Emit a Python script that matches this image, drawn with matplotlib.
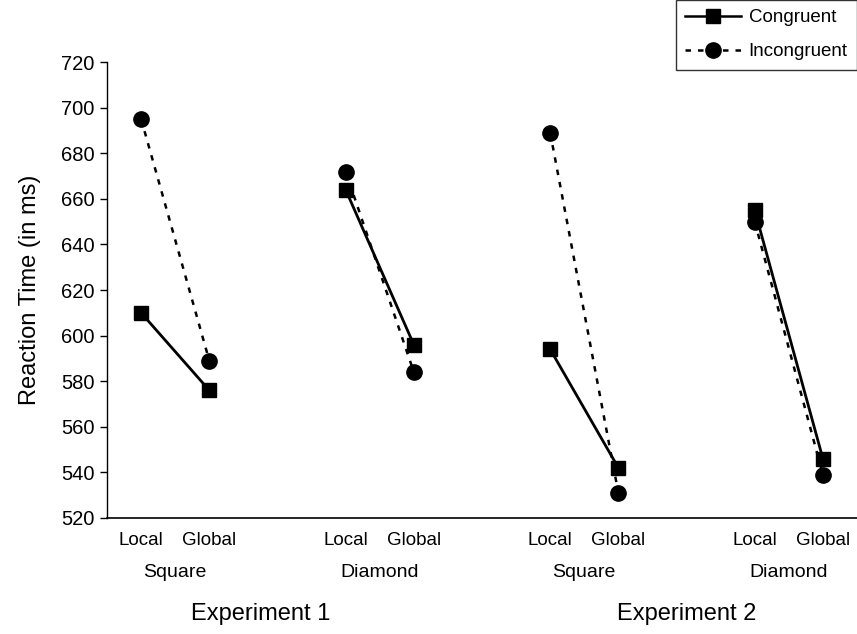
import numpy as np
import matplotlib
matplotlib.use('Agg')
import matplotlib.pyplot as plt
from matplotlib.lines import Line2D

plt.rcParams['font.family'] = ['Liberation Sans', 'DejaVu Sans']

# data (ms)
experiments = ['Experiment 1', 'Experiment 2']
shapes = ['Square', 'Diamond', 'Square', 'Diamond']
levels = ['Local', 'Global']
congruent = [[610, 576], [664, 596], [594, 542], [655, 546]]
incongruent = [[695, 589], [672, 584], [689, 531], [650, 539]]

fig = plt.figure(figsize=(8.57, 6.34), dpi=100)
ax = fig.add_axes([0.1249, 0.183, 0.8751, 0.719])

gap = 3
for i in range(len(shapes)):
    xs = [i * gap, i * gap + 1]
    ax.plot(xs, incongruent[i], color='black', lw=1.8, ls=(0, (2.2, 2.8)),
            marker='o', ms=11, mfc='black', mec='black', zorder=2)
    ax.plot(xs, congruent[i], color='black', lw=2.0, ls='-',
            marker='s', ms=10, mfc='black', mec='black', zorder=3)

ax.set_xlim(-0.5, 10.5)
ax.set_ylim(520, 720)
ax.set_yticks(np.arange(520, 721, 20))
ax.tick_params(axis='y', labelsize=14.5, length=5, width=1, direction='out', pad=4)
ax.set_ylabel('Reaction Time (in ms)', fontsize=17, labelpad=14)

xt = []
xl = []
for i in range(len(shapes)):
    xt += [i * gap, i * gap + 1]
    xl += levels
ax.set_xticks(xt)
ax.set_xticklabels(xl, fontsize=13.5)
ax.tick_params(axis='x', length=0, pad=10)

trans = ax.get_xaxis_transform()
for i, s in enumerate(shapes):
    ax.text(i * gap + 0.5, -0.12, s, transform=trans, ha='center', va='center', fontsize=14)
exp_x = [1.75, 8.0]
for j, e in enumerate(experiments):
    ax.text(exp_x[j], -0.21, e, transform=trans,
            ha='center', va='center', fontsize=17)

for sp in ['top', 'right']:
    ax.spines[sp].set_visible(False)
ax.spines['left'].set_linewidth(1.0)
ax.spines['bottom'].set_linewidth(1.2)

handles = [Line2D([], [], color='black', lw=1.8, marker='s', ms=10),
           Line2D([], [], color='black', lw=1.8, ls=(0, (2.2, 2.8)), marker='o', ms=11)]
leg = fig.legend(handles, ['Congruent', 'Incongruent'], loc='upper right',
                 bbox_to_anchor=(1.0, 1.0), fontsize=13.5, handlelength=3.0,
                 frameon=True, fancybox=False, edgecolor='black', borderpad=0.5,
                 labelspacing=0.9, handletextpad=0.4, borderaxespad=0.0)
leg.get_frame().set_linewidth(1.0)

fig.savefig('out.png', dpi=100)
